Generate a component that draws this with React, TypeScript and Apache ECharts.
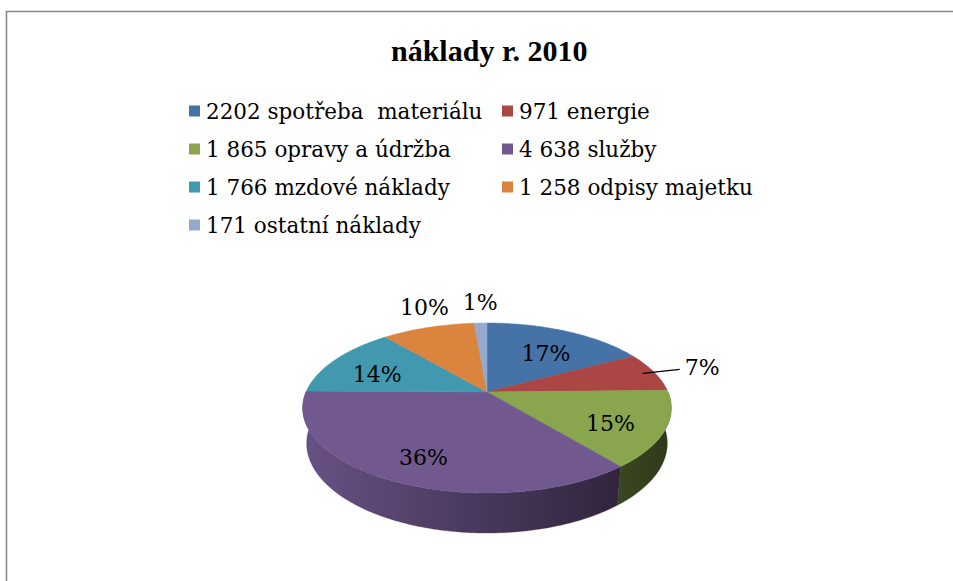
import React, { useEffect, useRef } from 'react';
import * as echarts from 'echarts';

// ---- data ----
const categories = [
  '2202 spotřeba  materiálu',
  '971 energie',
  '1 865 opravy a údržba',
  '4 638 služby',
  '1 766 mzdové náklady',
  '1 258 odpisy majetku',
  '171 ostatní náklady',
];
const values = [2202, 971, 1865, 4638, 1766, 1258, 171];
const pctLabels = ['17%', '7%', '15%', '36%', '14%', '10%', '1%'];
const colors = ['#4572A7', '#AA4643', '#89A54E', '#71588F', '#4198AF', '#DB843D', '#93A9CF'];
const titleText = 'náklady r. 2010';

// ---- 3D projection layout ----
const CX = 487;
const CY = 392;
const FOCAL = 856;
const DIST = 4.73;
const SIN_A = 0.453;
const COS_A = 0.891;
const DEPTH = 0.22;
const LABEL_FONT = 'DejaVu Serif';

function project(r: number, ang: number, z: number): number[] {
  const X = r * Math.sin(ang);
  const Y = r * Math.cos(ang);
  const v = Y * SIN_A + z * COS_A;
  const w = Y * COS_A - z * SIN_A;
  const k = FOCAL / (DIST + w);
  return [CX + X * k, CY - v * k];
}

function shade(hex: string, f: number): string {
  const n = parseInt(hex.slice(1), 16);
  const r = Math.round(((n >> 16) & 255) * f);
  const g = Math.round(((n >> 8) & 255) * f);
  const b = Math.round((n & 255) * f);
  return `rgb(${r},${g},${b})`;
}

function arcPts(from: number, to: number, z: number, r = 1): number[][] {
  const n = Math.max(2, Math.ceil((to - from) / (Math.PI / 180)));
  const pts: number[][] = [];
  for (let i = 0; i <= n; i++) {
    pts.push(project(r, from + ((to - from) * i) / n, z));
  }
  return pts;
}

export default function App() {
  const ref = useRef<HTMLDivElement>(null);

  useEffect(() => {
    if (!ref.current) return;
    const chart = echarts.init(ref.current, undefined, { renderer: 'svg' });
    const total = values.reduce((a, b) => a + b, 0);
    let acc = 0;
    const customData = values.map((v) => {
      const item = [v, acc, total];
      acc += v;
      return item;
    });
    const leftEdge = project(1, -Math.PI / 2, 0)[0];
    const rightEdge = project(1, Math.PI / 2, 0)[0];

    const legendCommon = {
      orient: 'vertical' as const,
      icon: 'rect',
      itemWidth: 11,
      itemHeight: 11,
      itemGap: 16,
      selectedMode: false,
      textStyle: {
        fontFamily: LABEL_FONT,
        fontSize: 21.5,
        color: '#000',
        padding: [0, 0, 0, 1],
      },
    };

    chart.setOption({
      animation: false,
      backgroundColor: '#fff',
      title: {
        text: titleText,
        left: 386,
        top: 30,
        textStyle: {
          fontFamily: 'Liberation Serif',
          fontWeight: 'bold',
          fontSize: 30,
          color: '#000',
        },
      },
      legend: [
        { ...legendCommon, data: [categories[0], categories[2], categories[4], categories[6]], left: 184, top: 95 },
        { ...legendCommon, data: [categories[1], categories[3], categories[5]], left: 497, top: 95 },
      ],
      graphic: [
        {
          type: 'rect',
          shape: { x: 6.5, y: 11.5, width: 1200, height: 800 },
          style: { fill: 'none', stroke: '#8a8a8a', lineWidth: 1.6 },
          silent: true,
        },
      ],
      series: [
        {
          type: 'pie',
          radius: [0, 0],
          center: [CX, CY],
          silent: true,
          label: { show: false },
          labelLine: { show: false },
          data: categories.map((name, i) => ({
            name,
            value: values[i],
            itemStyle: { color: colors[i] },
          })),
        },
        {
          type: 'custom',
          coordinateSystem: 'none',
          silent: true,
          data: customData,
          renderItem: (params: any, api: any) => {
            const idx = params.dataIndex;
            const v = api.value(0) as number;
            const s = api.value(1) as number;
            const T = api.value(2) as number;
            const a0 = (s / T) * 2 * Math.PI;
            const a1 = ((s + v) / T) * 2 * Math.PI;
            const color = colors[idx];
            const children: any[] = [];

            // side wall (front half only)
            const sa = Math.max(a0, Math.PI / 2);
            const sb = Math.min(a1, (3 * Math.PI) / 2);
            if (sb > sa) {
              const topPts = arcPts(sa, sb, 0);
              const botPts = arcPts(sa, sb, -DEPTH).reverse();
              children.push({
                type: 'polygon',
                z2: 1,
                shape: { points: topPts.concat(botPts) },
                style: {
                  fill: new echarts.graphic.LinearGradient(
                    leftEdge, 0, rightEdge, 0,
                    [
                      { offset: 0, color: shade(color, 0.92) },
                      { offset: 0.5, color: shade(color, 0.63) },
                      { offset: 1, color: shade(color, 0.35) },
                    ],
                    true
                  ),
                  stroke: shade(color, 0.5),
                  lineWidth: 0.3,
                },
              });
            }

            // top face
            const top = [project(0, 0, 0)].concat(arcPts(a0, a1, 0));
            children.push({
              type: 'polygon',
              z2: 2,
              shape: { points: top },
              style: { fill: color, stroke: color, lineWidth: 0.5 },
            });

            // label
            const mid = (a0 + a1) / 2;
            const pct = v / T;
            const textStyle = {
              text: pctLabels[idx],
              fill: '#000',
              fontFamily: LABEL_FONT,
              fontSize: 22,
            };
            if (pct >= 0.12) {
              const p = project(0.71, mid, 0);
              children.push({
                type: 'text',
                z2: 10,
                x: p[0],
                y: p[1] + 6,
                style: { ...textStyle, align: 'center', verticalAlign: 'middle' },
              });
            } else if (Math.abs(Math.sin(mid)) > 0.6) {
              const dir = Math.sin(mid) > 0 ? 1 : -1;
              const p0 = project(0.93, mid, 0);
              const p1 = [p0[0] + dir * 37, p0[1] - 4];
              children.push({
                type: 'polyline',
                z2: 9,
                shape: { points: [p0, p1] },
                style: { stroke: '#000', lineWidth: 1.3, fill: null },
              });
              children.push({
                type: 'text',
                z2: 10,
                x: p1[0] + dir * 5,
                y: p1[1] - 2,
                style: { ...textStyle, align: dir > 0 ? 'left' : 'right', verticalAlign: 'middle' },
              });
            } else {
              const p = project(1.08, mid, 0);
              children.push({
                type: 'text',
                z2: 10,
                x: p[0],
                y: p[1] - 5,
                style: { ...textStyle, align: 'center', verticalAlign: 'bottom' },
              });
            }
            return { type: 'group', children };
          },
        },
      ],
    });
    return () => chart.dispose();
  }, []);

  return (
    <div
      ref={ref}
      style={{ position: 'fixed', left: 0, top: 0, width: 953, height: 581, background: '#fff' }}
    />
  );
}
